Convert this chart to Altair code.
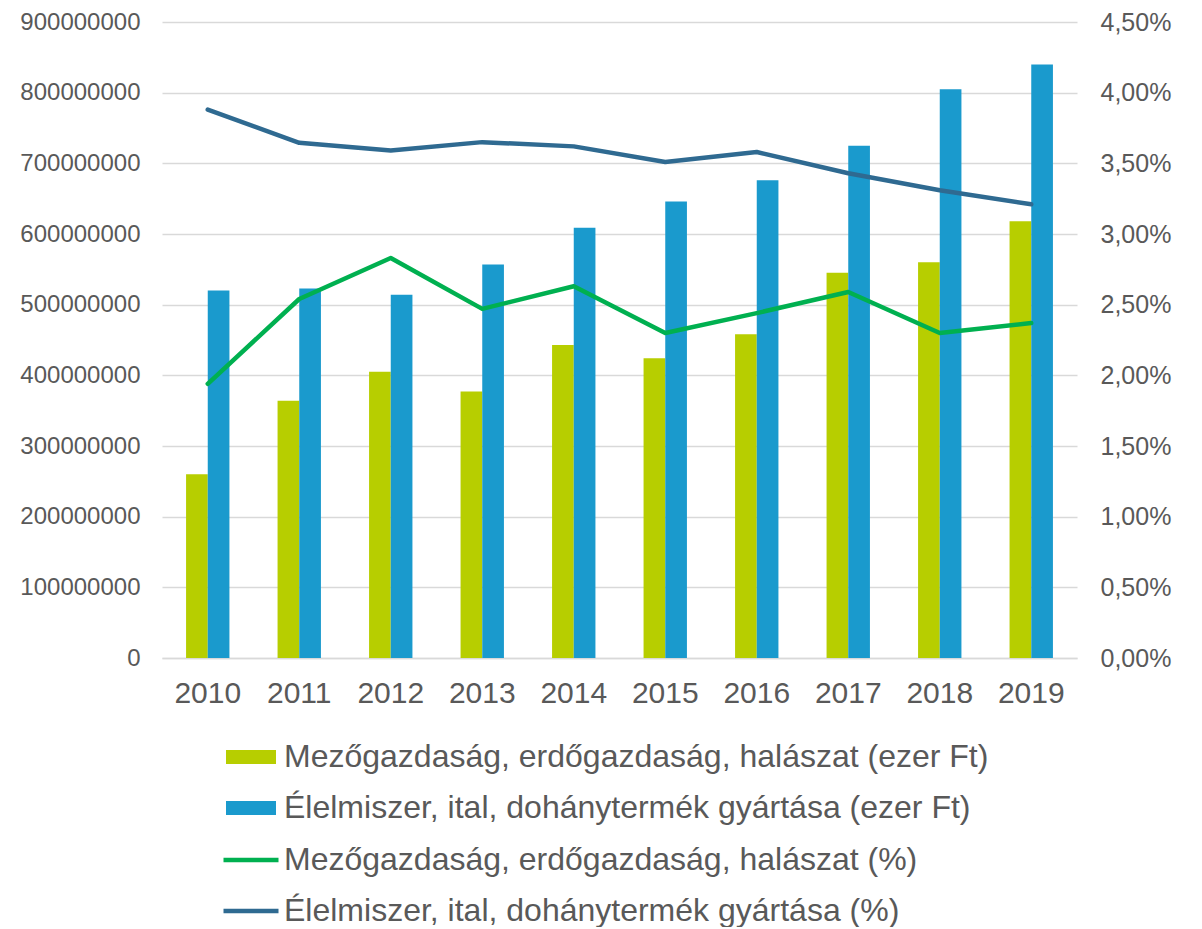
import altair as alt
import pandas as pd

years = ["2010", "2011", "2012", "2013", "2014", "2015", "2016", "2017", "2018", "2019"]
agri_value = [260e6, 364e6, 405e6, 377e6, 443e6, 424e6, 458e6, 545e6, 560e6, 618e6]
food_value = [520e6, 523e6, 514e6, 557e6, 609e6, 646e6, 676e6, 725e6, 805e6, 840e6]
agri_pct = [0.0194, 0.0254, 0.0283, 0.0247, 0.0263, 0.0230, 0.0244, 0.0259, 0.0230, 0.0237]
food_pct = [0.0388, 0.03645, 0.0359, 0.0365, 0.0362, 0.0351, 0.0358, 0.0343, 0.0331, 0.0321]

bar_names = ["Mezőgazdaság, erdőgazdaság, halászat (ezer Ft)",
             "Élelmiszer, ital, dohánytermék gyártása (ezer Ft)"]
line_names = ["Mezőgazdaság, erdőgazdaság, halászat (%)",
              "Élelmiszer, ital, dohánytermék gyártása (%)"]
bar_colors = ["#B7CE00", "#1A9ACD"]
line_colors = ["#00B050", "#2F6A91"]

left_ticks = [i * 100_000_000 for i in range(10)]
right_ticks = [i * 0.005 for i in range(10)]

bars_df = pd.DataFrame(
    [{"year": y, "series": bar_names[0], "value": v} for y, v in zip(years, agri_value)]
    + [{"year": y, "series": bar_names[1], "value": v} for y, v in zip(years, food_value)]
)
lines_df = pd.DataFrame(
    [{"year": y, "series": line_names[0], "pct": v} for y, v in zip(years, agri_pct)]
    + [{"year": y, "series": line_names[1], "pct": v} for y, v in zip(years, food_pct)]
)

FONT = "Liberation Sans"
TXT = "#595959"

x_enc = alt.X(
    "year:N",
    sort=years,
    scale=alt.Scale(paddingInner=0.526, paddingOuter=0.263),
    axis=alt.Axis(title=None, labelAngle=0, labelFontSize=30, labelColor=TXT, labelFont=FONT,
                  ticks=False, domainColor="#D9D9D9", domainWidth=1.5, labelPadding=20),
)

bars = alt.Chart(bars_df).mark_bar().encode(
    x=x_enc,
    xOffset=alt.XOffset("series:N", sort=bar_names, scale=alt.Scale(paddingInner=0, paddingOuter=0)),
    y=alt.Y("value:Q",
            scale=alt.Scale(domain=[0, 900_000_000], nice=False),
            axis=alt.Axis(title=None, values=left_ticks, format="d", orient="left",
                          labelFontSize=24, labelColor=TXT, labelFont=FONT, labelPadding=22,
                          ticks=False, domain=False, grid=True, gridColor="#D9D9D9", gridWidth=1.5)),
    fill=alt.Fill("series:N",
                  scale=alt.Scale(domain=bar_names, range=bar_colors),
                  legend=alt.Legend(title=None, orient="none", legendX=73, legendY=719,
                                    symbolType="M-2,-0.56H2V0.56H-2Z", symbolSize=625,
                                    symbolStrokeWidth=0, labelFontSize=32, labelColor=TXT,
                                    labelFont=FONT, labelOffset=17, labelLimit=1000,
                                    rowPadding=19, padding=0, direction="vertical")),
)

lines = alt.Chart(lines_df).mark_line(strokeWidth=4.5, strokeCap="round", strokeJoin="round").encode(
    x=x_enc,
    y=alt.Y("pct:Q",
            scale=alt.Scale(domain=[0, 0.045], nice=False),
            axis=alt.Axis(title=None, values=right_ticks, orient="right",
                          labelExpr="replace(format(datum.value, '.2%'), '.', ',')",
                          labelFontSize=25, labelColor=TXT, labelFont=FONT, labelPadding=23,
                          ticks=False, domain=False, grid=False)),
    stroke=alt.Stroke("series:N",
                      scale=alt.Scale(domain=line_names, range=line_colors),
                      legend=alt.Legend(title=None, orient="none", legendX=73, legendY=822,
                                        symbolType="M-2.2,0H2.2", symbolSize=625,
                                        symbolStrokeWidth=4.5, labelFontSize=32, labelColor=TXT,
                                        labelFont=FONT, labelOffset=17, labelLimit=1000,
                                        rowPadding=19, padding=0, direction="vertical")),
    detail="series:N",
)

chart = alt.layer(bars, lines).resolve_scale(
    y="independent", fill="independent", stroke="independent"
).properties(
    width=915, height=636,
    autosize=alt.AutoSizeParams(type="none"),
    padding={"left": 154, "top": 14, "right": 110, "bottom": 269},
    background="white",
).configure_view(stroke=None)

chart.save("out.html", embed_options={"renderer": "svg", "actions": False})
